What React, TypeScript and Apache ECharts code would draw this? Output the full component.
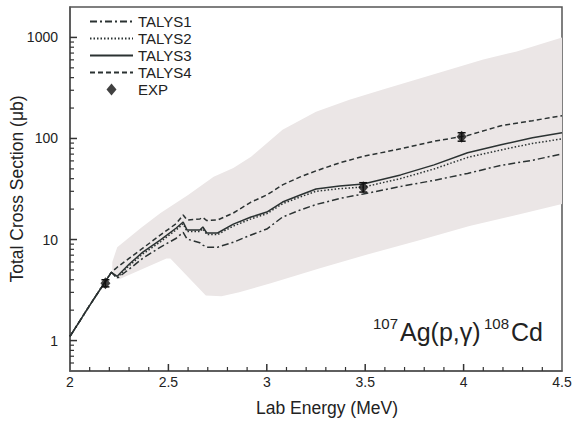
import React, { useEffect, useRef } from "react";
import * as echarts from "echarts";

// Lab energies (MeV) shared by the four TALYS curves
const energies = [2.0, 2.1, 2.21, 2.24, 2.3, 2.37, 2.46, 2.54, 2.575, 2.595, 2.66, 2.675, 2.695, 2.75, 2.83, 2.92, 3.0, 3.08, 3.17, 3.25, 3.37, 3.49, 3.68, 3.85, 4.02, 4.19, 4.35, 4.5];
// Total cross sections (µb)
const talys1 = [1.1, 2.23, 4.74, 4.14, 5.08, 6.53, 8.41, 10.3, 11.8, 10.1, 9.3, 8.8, 8.4, 8.4, 9.4, 11.1, 12.7, 16.7, 19.6, 22.2, 25.5, 28.2, 33.5, 38.5, 45.1, 54.2, 60.8, 70.5];
const talys2 = [1.1, 2.23, 4.74, 4.2, 5.5, 7.2, 9.5, 12.5, 14.3, 12.0, 12.0, 12.8, 11.2, 11.2, 13.6, 16.0, 18.0, 22.6, 26.4, 30.0, 31.9, 33.0, 40.1, 49.9, 64.9, 77.0, 89.4, 99.0];
const talys3 = [1.1, 2.23, 4.74, 4.33, 5.7, 7.5, 9.9, 13.0, 14.9, 12.4, 12.4, 13.3, 11.6, 11.6, 14.2, 16.7, 18.7, 23.5, 27.6, 31.6, 33.9, 35.5, 43.6, 54.8, 72.1, 86.5, 101.6, 114];
const talys4 = [1.1, 2.23, 4.74, 5.32, 6.5, 8.22, 11.1, 14.4, 17.5, 15.6, 16.0, 16.5, 15.4, 15.6, 18.3, 23.5, 27.6, 34.7, 41.7, 47.8, 57.4, 66.6, 79.0, 93.8, 107, 133.7, 150, 168];

// Experimental points
const expEnergy = [2.18, 3.49, 3.99];
const expValue = [3.7, 33, 104];
const expError = [0.3, 3.5, 10];

// Uncertainty band (upper and lower edges)
const bandUpperE = [2.215, 2.24, 2.36, 2.46, 2.6, 2.73, 2.83, 2.92, 3.08, 3.25, 3.42, 3.59, 3.76, 3.93, 4.1, 4.27, 4.5];
const bandUpperV = [6.0, 8.4, 13, 18.3, 27.6, 41.7, 51, 66, 122, 184, 242, 305, 383, 481, 605, 726, 1000];
const bandLowerE = [2.215, 2.25, 2.49, 2.51, 2.69, 2.77, 2.86, 3.02, 3.27, 3.52, 3.78, 4.03, 4.29, 4.5];
const bandLowerV = [4.8, 4.05, 6.5, 6.5, 2.8, 2.75, 3.0, 3.7, 5.2, 7.2, 9.9, 13.6, 17.9, 22.5];

// Axis ticks
const xMin = 2;
const xMax = 4.5;
const yMin = 0.5;
const yMax = 2000;
const xMajorTicks = [2.5, 3, 3.5, 4];
const xMinorTicks = [2.1, 2.2, 2.3, 2.4, 2.6, 2.7, 2.8, 2.9, 3.1, 3.2, 3.3, 3.4, 3.6, 3.7, 3.8, 3.9, 4.1, 4.2, 4.3, 4.4];
const yMajorTicks = [1, 10, 100, 1000];
const yMinorTicks = [0.6, 0.7, 0.8, 0.9, 2, 3, 4, 5, 6, 7, 8, 9, 20, 30, 40, 50, 60, 70, 80, 90, 200, 300, 400, 500, 600, 700, 800, 900];

const FONT = "'Liberation Sans', Arial, Helvetica, sans-serif";
const AXIS = "#333";
const TXT = "#222";
const CURVE = "#2b3232";
const HIDDEN_SYMBOL = { color: "rgba(0,0,0,0)", opacity: 0, borderWidth: 0 };

// tick items: [x, y, dx, dy] (pixel direction), built from the tick arrays
const tickItems = [
  ...xMajorTicks.map((v) => [v, yMin, 0, -7]),
  ...xMinorTicks.map((v) => [v, yMin, 0, -4]),
  ...yMajorTicks.map((v) => [xMin, v, 7, 0]),
  ...yMinorTicks.map((v) => [xMin, v, 4, 0]),
];

export default function App() {
  const ref = useRef<HTMLDivElement>(null);
  useEffect(() => {
    if (!ref.current) return;
    const chart = echarts.init(ref.current, undefined, { renderer: "svg" });
    const mk = (arr: number[]) => energies.map((e, i) => [e, arr[i]]);
    const lineSeries = (name: string, arr: number[], type: any) => ({
      name,
      type: "line",
      data: mk(arr),
      symbol: "none",
      z: 3,
      lineStyle: { color: CURVE, width: 1.5, type },
      itemStyle: { color: CURVE },
    });
    const option: any = {
      animation: false,
      backgroundColor: "#fff",
      textStyle: { fontFamily: FONT },
      grid: {
        left: 70, right: 12, top: 7, bottom: 50,
        containLabel: false, outerBoundsMode: "none",
        show: true, borderColor: "#555", borderWidth: 1.5, backgroundColor: "transparent",
      },
      legend: {
        orient: "vertical",
        left: 89,
        top: 14,
        padding: 0,
        itemWidth: 43,
        itemHeight: 12,
        itemGap: 2,
        selectedMode: false,
        textStyle: { fontSize: 15, color: TXT, fontFamily: FONT },
        data: [
          { name: "TALYS1", itemStyle: HIDDEN_SYMBOL },
          { name: "TALYS2", itemStyle: HIDDEN_SYMBOL },
          { name: "TALYS3", itemStyle: HIDDEN_SYMBOL },
          { name: "TALYS4", itemStyle: HIDDEN_SYMBOL },
          { name: "EXP", icon: "path://M5,0L10,6L5,12L0,6Z" },
        ],
      },
      xAxis: {
        type: "value",
        min: xMin,
        max: xMax,
        interval: 0.5,
        name: "Lab Energy (MeV)",
        nameLocation: "middle",
        nameGap: 28,
        nameMoveOverlap: false,
        nameTextStyle: { fontSize: 17.5, color: TXT, padding: [0, 0, 0, 22] },
        axisLine: { show: true, lineStyle: { color: "#555", width: 1.5 } },
        axisTick: { show: false },
        minorTick: { show: false },
        axisLabel: { fontSize: 14, color: TXT, margin: 4 },
        splitLine: { show: false },
      },
      yAxis: {
        type: "log",
        logBase: 10,
        min: yMin,
        max: yMax,
        position: "left",
        name: "Total Cross Section (\u03bcb)",
        nameLocation: "middle",
        nameGap: 44,
        nameMoveOverlap: false,
        nameTextStyle: { fontSize: 17.5, color: TXT },
        axisLine: { show: true, lineStyle: { color: "#555", width: 1.5 } },
        axisTick: { show: false },
        axisLabel: { fontSize: 14, color: TXT, margin: 12, customValues: yMajorTicks, formatter: (v: number) => String(Math.round(v)) },
        splitLine: { show: false },
      },
      series: [
        {
          type: "custom",
          name: "band",
          silent: true,
          z: 1,
          data: [[bandUpperE[0], bandUpperV[0]]],
          renderItem: (params: any, api: any) => {
            const up = bandUpperE.map((e, i) => api.coord([e, bandUpperV[i]]));
            const lo = bandLowerE.map((e, i) => api.coord([e, bandLowerV[i]])).reverse();
            return { type: "polygon", shape: { points: [...up, ...lo] }, style: { fill: "#ebe6e6" } };
          },
        },
        {
          type: "custom",
          name: "ticks",
          silent: true,
          clip: false,
          z: 6,
          data: tickItems,
          renderItem: (params: any, api: any) => {
            const p = api.coord([api.value(0), api.value(1)]);
            const dx = api.value(2);
            const dy = api.value(3);
            const major = Math.abs(dx) + Math.abs(dy) > 5;
            return {
              type: "line",
              shape: { x1: p[0], y1: p[1], x2: p[0] + dx, y2: p[1] + dy },
              style: { stroke: AXIS, lineWidth: major ? 1.5 : 1.2 },
            };
          },
        },
        lineSeries("TALYS1", talys1, [7, 3, 2, 3]),
        lineSeries("TALYS2", talys2, [1.5, 2]),
        lineSeries("TALYS3", talys3, "solid"),
        lineSeries("TALYS4", talys4, [5, 3]),
        {
          type: "custom",
          name: "EXP-err",
          z: 4,
          data: expEnergy.map((e, i) => [e, expValue[i], expError[i]]),
          renderItem: (params: any, api: any) => {
            const x = api.value(0);
            const y = api.value(1);
            const err = api.value(2);
            const top = api.coord([x, y + err]);
            const bot = api.coord([x, y - err]);
            const st = { stroke: "#111", lineWidth: 1.5 };
            return {
              type: "group",
              children: [
                { type: "line", shape: { x1: top[0], y1: top[1], x2: bot[0], y2: bot[1] }, style: st },
                { type: "line", shape: { x1: top[0] - 4, y1: top[1], x2: top[0] + 4, y2: top[1] }, style: st },
                { type: "line", shape: { x1: bot[0] - 4, y1: bot[1], x2: bot[0] + 4, y2: bot[1] }, style: st },
              ],
            };
          },
        },
        {
          name: "EXP",
          type: "scatter",
          z: 5,
          symbol: "diamond",
          symbolSize: [10, 12],
          itemStyle: { color: "#111" },
          data: expEnergy.map((e, i) => [e, expValue[i]]),
        },
      ],
      graphic: [
        { type: "text", left: 373, top: 316, style: { text: "107", fontSize: 15, fill: TXT, fontFamily: FONT } },
        { type: "text", left: 400, top: 319, style: { text: "Ag(p,\u03b3)", fontSize: 25, fill: TXT, fontFamily: FONT } },
        { type: "text", left: 484, top: 316, style: { text: "108", fontSize: 15, fill: TXT, fontFamily: FONT } },
        { type: "text", left: 511, top: 319, style: { text: "Cd", fontSize: 25, fill: TXT, fontFamily: FONT } },
      ],
    };
    chart.setOption(option);
    return () => chart.dispose();
  }, []);
  return <div ref={ref} style={{ position: "fixed", left: 0, top: 0, width: 574, height: 421, background: "#fff" }} />;
}
